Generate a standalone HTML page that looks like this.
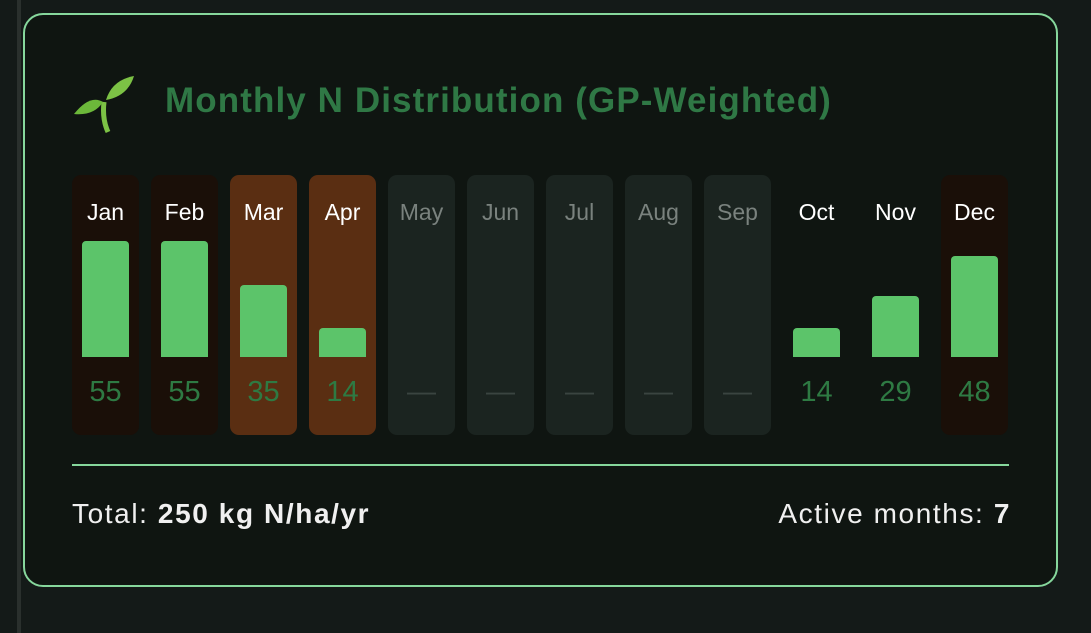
<!DOCTYPE html>
<html><head><meta charset="utf-8"><style>
body{margin:0;width:1091px;height:633px;background:#141a18;position:relative;overflow:hidden;font-family:"Liberation Sans",sans-serif}
.stripe{position:absolute;left:17px;top:0;width:4px;height:633px;background:#2a302d}
.card{position:absolute;left:23px;top:13px;width:1031px;height:570px;border:2px solid #86d79c;border-radius:20px;background:#0f1511}
.title{position:absolute;left:165px;top:81px;font-size:35px;letter-spacing:1.1px;font-weight:bold;color:#2f7845;white-space:nowrap}
.col{position:absolute;top:175px;width:67px;height:260px;border-radius:9px}
.lab{position:absolute;top:199px;width:67px;text-align:center;font-size:23px;color:#fff}
.bar{position:absolute;width:47px;background:#5cc46a;border-radius:4px 4px 0 0}
.val{position:absolute;top:376px;width:67px;text-align:center;font-size:29px;color:#2e7a43}
.div{position:absolute;left:72px;top:464px;width:937px;height:2px;background:#86d79c}
.foot{position:absolute;top:498px;font-size:28px;letter-spacing:1.6px;color:#f0f0f0;white-space:nowrap}
</style></head><body>
<div class="stripe"></div>
<div class="card"></div>
<svg style="position:absolute;left:72px;top:74px" width="64" height="60" viewBox="0 0 64 60">
<path d="M32 28 Q30 45 36 58" stroke="#7cc245" stroke-width="5" fill="none"/>
<path d="M31 28 Q18 20 2 40 Q22 42 31 28Z" fill="#6cb83a"/>
<path d="M34 26 Q40 6 62 2 Q56 22 34 26Z" fill="#7cc245"/>
</svg>
<div class="title">Monthly N Distribution (GP-Weighted)</div>
<div id="c"></div>
<div class="div"></div>
<div class="foot" style="left:72px">Total: <b>250 kg N/ha/yr</b></div>
<div class="foot" style="right:80px">Active months: <b>7</b></div>
<script>
var m=["Jan","Feb","Mar","Apr","May","Jun","Jul","Aug","Sep","Oct","Nov","Dec"];
var v=[55,55,35,14,0,0,0,0,0,14,29,48];
var h=[116,116,72,29,0,0,0,0,0,29,61,101];
var bg=["#1a0f08","#1a0f08","#5a2e12","#5a2e12","#1b2420","#1b2420","#1b2420","#1b2420","#1b2420","transparent","transparent","#1a0f08"];
var s="";
for(var i=0;i<12;i++){var x=72+i*79;var act=v[i]>0;
s+='<div class="col" style="left:'+x+'px;background:'+bg[i]+'"></div>';
s+='<div class="lab" style="left:'+x+'px;color:'+(act?'#fff':'#7a827e')+'">'+m[i]+'</div>';
if(act)s+='<div class="bar" style="left:'+(x+10)+'px;top:'+(357-h[i])+'px;height:'+h[i]+'px"></div>';
s+='<div class="val" style="left:'+x+'px;'+(act?'':'color:#3a4440')+'">'+(act?v[i]:'—')+'</div>';}
document.getElementById("c").innerHTML=s;
</script>
</body></html>
